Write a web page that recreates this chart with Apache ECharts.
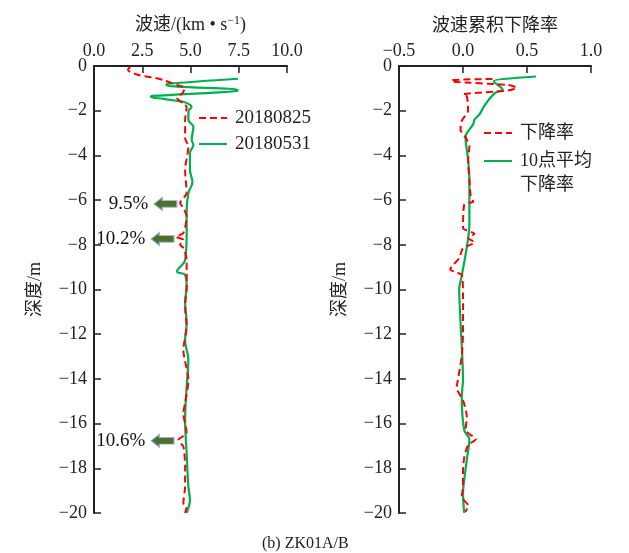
<!DOCTYPE html>
<html><head><meta charset="utf-8">
<script src="https://cdn.jsdelivr.net/npm/echarts@6/dist/echarts.min.js"></script>
<style>html,body{margin:0;padding:0;background:#fff}#c{width:629px;height:553px}</style>
</head><body><div id="c"></div>
<script>
// Left panel: wave velocity (km/s) vs depth (m)
const leftRedDepth = [-0.03,-0.18,-0.4,-0.54,-0.63,-0.85,-0.98,-1.2,-1.43,-1.66,-1.83,-2.42,-3.22,-3.61,-4.65,-5.68,-6.13,-6.35,-6.74,-7.47,-7.64,-7.78,-8.0,-8.14,-8.68,-9.87,-10.77,-11.66,-12.7,-14.05,-15.08,-15.53,-16.42,-16.73,-17.03,-17.93,-18.82,-19.55,-19.72,-20.0];
const leftRedV = [1.87,1.76,2.3,3.2,3.6,4.3,4.7,4.6,4.3,4.6,4.8,4.72,4.72,4.89,4.72,4.80,4.46,4.63,4.80,4.63,4.25,4.63,4.46,4.63,4.80,4.80,4.72,4.80,4.63,4.89,4.72,4.63,4.80,4.37,4.63,4.72,4.72,4.63,4.80,4.72];
const leftGreenDepth = [-0.57,-0.8,-0.86,-0.92,-1.07,-1.12,-1.18,-1.34,-1.39,-1.47,-1.62,-1.75,-1.85,-2.0,-2.42,-2.72,-3.31,-3.53,-3.89,-4.65,-5.2,-5.68,-6.58,-7.47,-8.68,-9.2,-9.35,-9.87,-10.55,-11.5,-12.26,-13.15,-14.35,-15.84,-17.32,-18.82,-19.42,-20.0];
const leftGreenV = [7.46,3.8,3.75,4.3,7.45,7.4,6.5,3.0,2.95,3.6,4.7,5.0,5.05,4.9,4.89,5.15,5.06,5.15,4.97,4.97,5.1,4.89,4.80,4.80,4.72,4.3,4.72,4.80,4.72,4.80,4.72,4.89,4.80,4.72,4.80,4.89,4.97,4.80];

// Right panel: cumulative decline rate of wave velocity
const rightRedDepth = [-0.58,-0.63,-0.7,-0.85,-0.97,-1.1,-1.27,-1.35,-2.0,-2.45,-2.85,-3.2,-3.6,-4.2,-5.1,-5.8,-6.07,-6.2,-7.25,-7.5,-7.7,-7.9,-8.15,-8.6,-9.1,-9.2,-9.35,-10.2,-10.8,-12.0,-13.0,-14.05,-14.4,-14.95,-15.7,-16.3,-16.7,-16.96,-17.5,-18.1,-18.8,-19.3,-19.65,-19.95];
const rightRedR = [0.23,-0.09,-0.08,0.35,0.42,0.35,0.0,0.03,0.04,-0.01,-0.02,0.02,0.05,0.04,0.05,0.06,0.08,0.01,0.0,0.09,0.04,0.09,0.0,-0.03,-0.1,-0.07,-0.01,0.0,0.0,0.0,-0.01,-0.04,-0.05,0.0,0.03,0.02,0.1,0.04,0.01,0.0,0.0,-0.01,0.04,0.02];
const rightGreenDepth = [-0.47,-0.66,-0.75,-1.06,-1.2,-1.75,-2.15,-2.4,-2.6,-3.0,-3.2,-4.2,-5.1,-7.1,-8.1,-9.4,-10.0,-11.4,-14.05,-14.8,-16.3,-16.7,-17.6,-18.5,-19.1,-20.0];
const rightGreenR = [0.57,0.24,0.25,0.31,0.25,0.17,0.13,0.09,0.08,0.03,0.02,0.04,0.05,0.05,0.03,-0.01,-0.03,-0.02,0.0,-0.01,0.01,0.05,0.03,0.01,0.0,0.01];

// Annotations (decline percentages) on left panel
const annotText = ['9.5%','10.2%','10.6%'];
const annotDepth = [-6.17,-7.74,-16.77];
const annotV = [3.7,3.55,3.55];

const seriesNames = ['20180825','20180531','下降率','10点平均下降率'];
const caption = '(b) ZK01A/B';

const SERIF = '"Liberation Serif","Times New Roman",serif';
const CJK = '"Liberation Serif","Noto Sans CJK SC",serif';
const RED = '#ff0000', GREEN = '#00b050', INK = '#222';

const zip = (a, b) => a.map((d, i) => [b[i], d]);
const minus = s => String(s).replace('-', '\u2212');

const chart = echarts.init(document.getElementById('c'), null, {renderer: 'canvas'});

function xAxisCommon(name, min, max, interval, gi) {
  return {
    type: 'value', gridIndex: gi, position: 'top', min, max, interval,
    name, nameLocation: 'middle', nameGap: 31,
    nameTextStyle: {fontFamily: CJK, fontSize: 18, color: INK,
      rich: {sup: {fontFamily: SERIF, fontSize: 12, color: INK, verticalAlign: 'top', padding: [0,0,8,0]}}},
    axisLine: {show: true, onZero: false, lineStyle: {color: INK, width: 2}},
    axisTick: {show: true, inside: true, length: 7, lineStyle: {color: INK, width: 1.5}},
    axisLabel: {fontFamily: SERIF, fontSize: 18, color: INK, margin: 6,
      formatter: v => minus(v.toFixed(1))},
    splitLine: {show: false}
  };
}
function yAxisCommon(gi) {
  return {
    type: 'value', gridIndex: gi, min: -20, max: 0, interval: 2,
    name: '深度/m', nameLocation: 'middle', nameGap: 50,
    nameTextStyle: {fontFamily: CJK, fontSize: 18, color: INK},
    axisLine: {show: true, onZero: false, lineStyle: {color: INK, width: 2}},
    axisTick: {show: true, inside: true, length: 7, lineStyle: {color: INK, width: 1.5}},
    axisLabel: {fontFamily: SERIF, fontSize: 18, color: INK, margin: 7,
      formatter: v => minus(v)},
    splitLine: {show: false}
  };
}
const legendText = {fontFamily: CJK, fontSize: 18, color: INK, lineHeight: 24, padding: [0,0,0,3]};
const legendTextL = Object.assign({}, legendText, {fontSize: 19, lineHeight: 24});
const legendItem = {opacity: 0, borderWidth: 0};
const legendLine = {width: 2};

const option = {
  animation: false,
  backgroundColor: '#fff',
  title: {text: caption, left: 257, top: 531,
    textStyle: {fontFamily: SERIF, fontSize: 16, fontWeight: 'normal', color: INK}},
  grid: [
    {left: 94, top: 66, width: 193, height: 447},
    {left: 399, top: 66, width: 192, height: 447}
  ],
  xAxis: [
    xAxisCommon('波速/(km • s{sup|\u22121})', 0, 10, 2.5, 0),
    xAxisCommon('波速累积下降率', -0.5, 1, 0.5, 1)
  ],
  yAxis: [yAxisCommon(0), yAxisCommon(1)],
  legend: [
    {data: [seriesNames[0], seriesNames[1]], orient: 'vertical', left: 193, top: 101,
      itemWidth: 28, itemHeight: 14, itemGap: 2, textStyle: legendTextL, itemStyle: legendItem, lineStyle: legendLine},
    {data: [seriesNames[2]], orient: 'vertical', left: 478, top: 116,
      itemWidth: 28, itemHeight: 14, textStyle: legendText, itemStyle: legendItem, lineStyle: legendLine},
    {data: [seriesNames[3]], orient: 'vertical', left: 478, top: 120,
      itemWidth: 28, itemHeight: 14, textStyle: legendText, itemStyle: legendItem, lineStyle: legendLine,
      formatter: () => '\n10点平均\n下降率'}
  ],
  series: [
    {name: seriesNames[0], type: 'line', xAxisIndex: 0, yAxisIndex: 0, symbol: 'none',
      smooth: 0.25, data: zip(leftRedDepth, leftRedV),
      lineStyle: {color: RED, width: 2, type: [7, 4]}, itemStyle: {color: RED}, z: 3},
    {name: seriesNames[1], type: 'line', xAxisIndex: 0, yAxisIndex: 0, symbol: 'none',
      smooth: 0.35, data: zip(leftGreenDepth, leftGreenV),
      lineStyle: {color: GREEN, width: 2.2}, itemStyle: {color: GREEN}, z: 2},
    {name: seriesNames[2], type: 'line', xAxisIndex: 1, yAxisIndex: 1, symbol: 'none',
      smooth: 0.2, data: zip(rightRedDepth, rightRedR),
      lineStyle: {color: RED, width: 2, type: [7, 4]}, itemStyle: {color: RED}, z: 3},
    {name: seriesNames[3], type: 'line', xAxisIndex: 1, yAxisIndex: 1, symbol: 'none',
      smooth: 0.3, data: zip(rightGreenDepth, rightGreenR),
      lineStyle: {color: GREEN, width: 2.2}, itemStyle: {color: GREEN}, z: 2},
    {name: 'annot', type: 'scatter', xAxisIndex: 0, yAxisIndex: 0, silent: true,
      symbol: 'path://M0,6 L8,0 L8,3 L22,3 L22,9 L8,9 L8,12 Z', symbolSize: [23, 13],
      itemStyle: {color: '#4a722b', borderColor: '#9fb0cc', borderWidth: 1, opacity: 1},
      label: {show: true, position: 'left', distance: 5, fontFamily: SERIF, fontSize: 19, color: '#111', opacity: 1,
        formatter: p => p.name},
      data: annotText.map((t, i) => ({name: t, value: [annotV[i], annotDepth[i]]})), z: 5}
  ]
};
chart.setOption(option);
</script></body></html>
